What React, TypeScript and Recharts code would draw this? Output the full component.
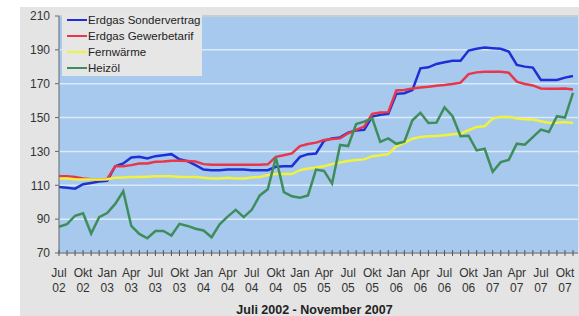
import { LineChart, Line, XAxis, YAxis, CartesianGrid, ReferenceLine } from "recharts";

// Monate Juli 2002 bis November 2007
const monatsNamen = ["Jan", "Feb", "Mär", "Apr", "Mai", "Jun", "Jul", "Aug", "Sep", "Okt", "Nov", "Dez"];
const beschriftet = ["Jan", "Apr", "Jul", "Okt"];
const monate: string[] = [];
for (let j = 2002; j <= 2007; j++) {
  for (let m = 0; m < 12; m++) {
    if (j === 2002 && m < 6) continue;
    if (j === 2007 && m > 10) continue;
    monate.push(monatsNamen[m] + " " + String(j).slice(2));
  }
}

const yTicks = [70, 90, 110, 130, 150, 170, 190, 210];

const sondervertrag = [
  109, 108.6, 108, 110.6, 111.4, 112.2, 112.6, 121.3, 122.9, 126.4, 126.8, 125.8, 127.2, 127.8, 128.4, 125.4,
  124.3, 121.9, 119.3, 118.9, 118.9, 119.3, 119.3, 119.3, 118.9, 118.9, 118.9, 120.9, 121.3, 121.3, 126.8, 128.4,
  128.8, 136.3, 137.7, 138.3, 141.1, 142.3, 142.7, 150.6, 151.6, 152.2, 164, 164.4, 166.2, 179.1, 179.7, 181.7,
  182.7, 183.5, 183.5, 189.6, 190.6, 191.4, 191, 190.6, 189, 181.1, 180.1, 179.5, 172.2, 172.2, 172.2, 173.6, 174.6,
];
const gewerbetarif = [
  115.3, 115.3, 114.9, 114, 113.6, 113.6, 113.6, 121.3, 121.3, 121.9, 122.9, 122.9, 123.9, 124, 124.5, 124.5,
  124.3, 124, 122.5, 122.2, 122.2, 122.2, 122.2, 122.2, 122.2, 122.2, 122.4, 126.8, 127.8, 128.8, 133.2, 134.4,
  135.2, 136.7, 137.3, 137.7, 140.7, 142.7, 144.7, 152.2, 153, 153.2, 166, 166.3, 167.2, 167.8, 168.2, 168.8,
  169.2, 169.8, 170.6, 175.7, 176.7, 177.1, 177.1, 177.1, 176.5, 171.2, 169.8, 169, 167.2, 167, 167, 167.2, 166.6,
];
const fernwaerme = [
  114, 114, 113.6, 113.4, 113.4, 113.4, 113.6, 114.4, 114.6, 114.9, 114.9, 115.1, 115.3, 115.3, 115.3, 114.9,
  114.9, 114.9, 114.5, 114, 114, 114.4, 114, 114, 114.6, 114.9, 116, 116.6, 116.6, 116.6, 118.9, 119.9,
  120.5, 121.3, 122.5, 123.4, 124.3, 124.9, 125.3, 127.2, 127.8, 128.4, 133, 135, 137.5, 138.5, 138.9, 139.1,
  139.5, 140.1, 140.5, 142.5, 144.5, 144.9, 149.4, 150.4, 150.4, 149.4, 149, 148.8, 147.8, 147, 147, 147.4, 146.8,
];
const heizoel = [
  85.5, 87, 92, 93.5, 81.5, 91.2, 93.6, 99, 106.5, 86, 81.3, 78.7, 83, 83, 80.3, 87.2,
  86, 84.3, 83.3, 79.3, 87, 91.5, 95.5, 91.2, 95.5, 104, 107.7, 126.4, 106, 103.5, 102.7, 104,
  119.3, 118.5, 111, 133.8, 133.2, 146.2, 147.6, 149.6, 135.7, 137.7, 134.5, 135.8, 148.4, 152.8, 146.8, 147,
  156, 150.8, 139, 139.3, 130.6, 131.6, 118, 123.7, 125, 134.6, 134, 138.5, 142.9, 141.5, 150.8, 150, 164.6,
];

const serien = [
  { key: "sonder", name: "Erdgas Sondervertrag", color: "#1f2fd6", werte: sondervertrag },
  { key: "gewerbe", name: "Erdgas Gewerbetarif", color: "#e8364a", werte: gewerbetarif },
  { key: "fern", name: "Fernwärme", color: "#f0f23c", werte: fernwaerme },
  { key: "heiz", name: "Heizöl", color: "#3f8d5b", werte: heizoel },
];

const daten = monate.map((m, i) => {
  const row: Record<string, string | number> = { monat: m };
  serien.forEach((s) => (row[s.key] = s.werte[i]));
  return row;
});

function MonatsTick({ x, y, payload }: any) {
  const [mon, jahr] = String(payload.value).split(" ");
  const zeigen = beschriftet.includes(mon);
  return (
    <g>
      <line x1={x} x2={x} y1={y - 3} y2={y + 3} stroke="#555" />
      {zeigen && (
        <text x={x} y={y + 24} textAnchor="middle" fontSize={12} fill="#333">
          {mon}
        </text>
      )}
      {zeigen && (
        <text x={x} y={y + 39} textAnchor="middle" fontSize={12} fill="#333">
          {jahr}
        </text>
      )}
    </g>
  );
}

export default function App() {
  return (
    <div
      style={{
        position: "relative",
        width: 579,
        height: 316,
        background: "#fff",
        overflow: "hidden",
        fontFamily: "'Liberation Sans', Arial, sans-serif",
      }}
    >
      <style>{"body{margin:0}"}</style>
      <div style={{ position: "absolute", left: 20, top: 7, width: 559, height: 309, background: "#e4e4e4" }}>
        <LineChart width={559} height={309} data={daten} margin={{ top: 9, right: 1, bottom: 0, left: 0 }}>
          <CartesianGrid vertical={false} fill="#a7c9ee" stroke="#dcebfa" strokeWidth={1.5} />
          <XAxis
            dataKey="monat"
            interval={0}
            height={63}
            tickSize={0}
            tickMargin={0}
            tickLine={false}
            padding={{ left: 0, right: 5 }}
            axisLine={{ stroke: "#555" }}
            tick={<MonatsTick />}
            label={{
              value: "Juli 2002 - November 2007",
              position: "insideBottom",
              offset: 2,
              dx: -4,
              style: { fontWeight: "bold", fontSize: 12.5, fill: "#222" },
            }}
          />
          <YAxis
            domain={[70, 210]}
            ticks={yTicks}
            width={39}
            tickSize={4}
            tickMargin={5}
            axisLine={{ stroke: "#666" }}
            tickLine={{ stroke: "#666" }}
            tick={{ fontSize: 12, fill: "#333" }}
          />
          <ReferenceLine y={210} stroke="#c4c4c4" strokeWidth={1.5} />
          {serien.map((s) => (
            <Line
              key={s.key}
              dataKey={s.key}
              name={s.name}
              stroke={s.color}
              strokeWidth={2.5}
              dot={false}
              type="linear"
              isAnimationActive={false}
            />
          ))}
        </LineChart>
      </div>
      <div
        style={{
          position: "absolute",
          left: 62,
          top: 12,
          width: 140,
          height: 64,
          background: "#e6e6e6",
        }}
      >
        {serien.map((s) => (
          <div key={s.key} style={{ display: "flex", alignItems: "center", height: 16 }}>
            <div style={{ marginLeft: 5, width: 20, height: 2, background: s.color }} />
            <span style={{ marginLeft: 1, fontSize: 11.5, color: "#222", whiteSpace: "nowrap" }}>{s.name}</span>
          </div>
        ))}
      </div>
    </div>
  );
}
